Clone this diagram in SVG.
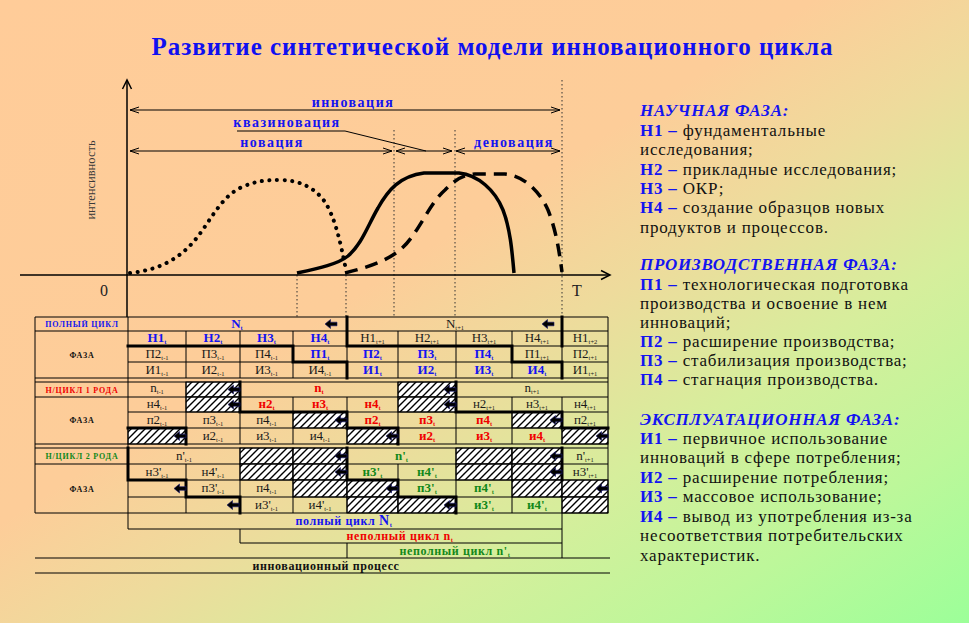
<svg xmlns="http://www.w3.org/2000/svg" width="969" height="623" viewBox="0 0 969 623">
<defs>
<linearGradient id="bg" x1="0" y1="0" x2="1" y2="1">
<stop offset="0" stop-color="#FFCC99"/>
<stop offset="0.42" stop-color="#FDCD99"/>
<stop offset="0.55" stop-color="#EEDB9C"/>
<stop offset="0.7" stop-color="#D6EE9C"/>
<stop offset="0.85" stop-color="#BDF79A"/>
<stop offset="1" stop-color="#9CFF99"/>
</linearGradient>
<pattern id="hatch" patternUnits="userSpaceOnUse" width="7" height="7">
<rect width="7" height="7" fill="#fff"/>
<path d="M-1,8 L8,-1 M-1,1 L1,-1 M6,8 L8,6" stroke="#000" stroke-width="1.4"/>
</pattern>
<marker id="ah" markerWidth="10" markerHeight="8" refX="9" refY="4" orient="auto-start-reverse" markerUnits="userSpaceOnUse">
<path d="M0,1 L9,4 L0,7" fill="none" stroke="#000" stroke-width="1"/>
</marker>
<marker id="ax" markerWidth="12" markerHeight="12" refX="10" refY="6" orient="auto" markerUnits="userSpaceOnUse">
<path d="M1,1.5 L10,6 L1,10.5" fill="none" stroke="#000" stroke-width="1.5"/>
</marker>
<path id="la" d="M0,0 L5.5,-4.5 L5.5,-1.8 L12,-1.8 L12,1.8 L5.5,1.8 L5.5,4.5 Z" fill="#000" stroke="#1a1a70" stroke-width="0.6"/>
<style>
text{font-family:"Liberation Serif","Times New Roman",serif}
.c{font-size:13px;text-anchor:middle}
.s{font-size:6.5px}
.bl{fill:#1414F0;font-weight:bold}
.bk{fill:#1a1a1a}
.rd{fill:#F00000;font-weight:bold}
.gr{fill:#12881A;font-weight:bold}
.ln{stroke:#000;stroke-width:1;fill:none}
.th{stroke:#000;stroke-width:3;fill:none;stroke-linecap:square}
.h{fill:url(#hatch);stroke:#000;stroke-width:1}
.dim{stroke:#000;stroke-width:1;fill:none}
.dv{stroke:#333;stroke-width:1;stroke-dasharray:1.5 2.5}
.lab{font-size:14px;font-weight:bold;fill:#1414F0;letter-spacing:1.5px;text-anchor:middle}
.rl{font-size:8px;font-weight:bold;text-anchor:middle;letter-spacing:0.8px}
.br{font-size:12px;font-weight:bold;text-anchor:middle;letter-spacing:0.6px}
.lg{font-size:17px;fill:#111;letter-spacing:0.8px}
.hd{font-style:italic;font-weight:bold;fill:#1414F0}
.k{font-weight:bold;fill:#1414F0}
</style>
</defs>
<rect width="969" height="623" fill="url(#bg)"/>

<g id="title">
<text x="492" y="55" font-size="25" font-weight="bold" fill="#1010F0" text-anchor="middle" textLength="681" lengthAdjust="spacing">Развитие синтетической модели инновационного цикла</text>
</g>

<g id="chart">
<path class="dv" d="M297,275 V317 M346,275 V317 M394,130 V317 M455,130 V317 M562,80 V317"/>
<path d="M20,275 H610" stroke="#000" stroke-width="1.5" marker-end="url(#ax)"/>
<path d="M127,317 V80" stroke="#000" stroke-width="1.5" marker-end="url(#ax)"/>
<text x="104" y="296" font-family="Liberation Sans,Arial,sans-serif" font-size="16" text-anchor="middle" fill="#222">0</text>
<text x="577" y="296" font-family="Liberation Sans,Arial,sans-serif" font-size="16" text-anchor="middle" fill="#222">T</text>
<text transform="translate(95,180) rotate(-90)" font-family="Liberation Sans,Arial,sans-serif" font-size="12.5" text-anchor="middle" fill="#3a3a3a">интенсивность</text>
<path class="dim" d="M130,110 H560" marker-start="url(#ah)" marker-end="url(#ah)"/>
<path class="dim" d="M130,151 H392" marker-start="url(#ah)" marker-end="url(#ah)"/>
<path class="dim" d="M396,151 H452" marker-start="url(#ah)" marker-end="url(#ah)"/>
<path class="dim" d="M456,151 H560" marker-start="url(#ah)" marker-end="url(#ah)"/>
<path class="dim" d="M237,131 H345 L426,151"/>
<text class="lab" x="353" y="107">инновация</text>
<text class="lab" x="287" y="127">квазиновация</text>
<text class="lab" x="272" y="147">новация</text>
<text class="lab" x="514" y="147">деновация</text>
<path d="M130,273 C160,270 180,258 195,240 C210,222 220,198 240,188 C255,181 265,180 280,180 C300,180 315,188 325,202 C335,218 340,240 346,270" fill="none" stroke="#000" stroke-width="4" stroke-linecap="round" stroke-dasharray="0.1 7.5"/>
<path d="M297,273 C320,268 338,264 348,256 C362,244 368,225 378,208 C388,190 400,176 424,173 L459,173 C478,175 495,190 503,210 C510,228 512,250 514,273" fill="none" stroke="#000" stroke-width="3.5"/>
<path d="M345,273 C365,268 385,262 400,250 C418,235 428,205 445,190 C455,180 462,175 475,174 L505,174 C525,176 540,192 548,210 C556,230 559,250 562,272" fill="none" stroke="#000" stroke-width="3.5" stroke-dasharray="13 8"/>
</g>

<g id="hatched">
<rect class="h" x="186" y="382" width="54" height="15"/>
<rect class="h" x="398" y="382" width="58" height="15"/>
<rect class="h" x="186" y="397" width="54" height="15"/>
<rect class="h" x="398" y="397" width="58" height="15"/>
<rect class="h" x="293" y="412" width="54" height="16"/>
<rect class="h" x="512" y="412" width="50" height="16"/>
<rect class="h" x="128" y="428" width="58" height="16"/>
<rect class="h" x="347" y="428" width="51" height="16"/>
<rect class="h" x="562" y="428" width="46" height="16"/>
<rect class="h" x="240" y="448" width="53" height="16"/>
<rect class="h" x="293" y="448" width="54" height="16"/>
<rect class="h" x="456" y="448" width="56" height="16"/>
<rect class="h" x="512" y="448" width="50" height="16"/>
<rect class="h" x="240" y="464" width="53" height="16"/>
<rect class="h" x="293" y="464" width="54" height="16"/>
<rect class="h" x="456" y="464" width="56" height="16"/>
<rect class="h" x="512" y="464" width="50" height="16"/>
<rect class="h" x="293" y="480" width="54" height="17"/>
<rect class="h" x="347" y="480" width="51" height="17"/>
<rect class="h" x="512" y="480" width="50" height="17"/>
<rect class="h" x="562" y="480" width="46" height="17"/>
<rect class="h" x="347" y="497" width="51" height="16"/>
<rect class="h" x="398" y="497" width="58" height="16"/>
<rect class="h" x="562" y="497" width="46" height="16"/>
</g>

<g id="grid">
<path class="ln" stroke-width="2" d="M35,317 H608 M35,378 H608 M35,444 H608"/>
<path class="ln" d="M35,331 H608 M128,346 H608 M128,362 H608"/>
<path class="ln" stroke-width="1.5" d="M35,382 H608"/>
<path class="ln" d="M35,397 H608 M128,412 H608 M128,428 H608"/>
<path class="ln" stroke-width="1.5" d="M35,448 H608"/>
<path class="ln" d="M35,464 H608 M128,480 H608 M128,497 H608 M35,513 H608"/>
<path class="ln" d="M35,317 V513 M608,317 V513"/>
<path class="ln" stroke-width="1.5" d="M128,317 V529"/>
<path class="ln" d="M186,331 V378 M240,331 V378 M293,331 V378 M347,331 V378 M398,331 V378 M456,331 V378 M512,331 V378 M562,331 V378"/>
<path class="ln" d="M186,382 V397 M240,382 V397 M398,382 V397 M456,382 V397"/>
<path class="ln" d="M186,397 V444 M240,397 V444 M293,397 V444 M347,397 V444 M398,397 V444 M456,397 V444 M512,397 V444 M562,397 V444"/>
<path class="ln" d="M240,448 V464 M293,448 V464 M347,448 V464 M456,448 V464 M512,448 V464 M562,448 V464"/>
<path class="ln" d="M186,464 V513 M240,464 V513 M293,464 V513 M347,464 V513 M398,464 V513 M456,464 V513 M512,464 V513 M562,464 V513"/>
<path class="th" d="M128,346 H293 V362 H347 V378"/>
<path class="th" d="M347,317 V346 H512 V362 H562 V378"/>
<path class="th" d="M562,317 V346"/>
<path class="th" d="M128,428 H186 V444"/>
<path class="th" d="M240,382 V412 H347 V428 H398 V444"/>
<path class="th" d="M456,382 V412 H562 V428 H608"/>
<path class="th" d="M128,448 V480 H186 V497 H240 V513"/>
<path class="th" d="M347,448 V480 H398 V497 H456 V513"/>
<path class="th" d="M562,448 V480"/>
</g>

<g id="arrows">
<use href="#la" x="325" y="324"/>
<use href="#la" x="542" y="324"/>
<use href="#la" x="228" y="389.5"/>
<use href="#la" x="444" y="389.5"/>
<use href="#la" x="228" y="404.5"/>
<use href="#la" x="444" y="404.5"/>
<use href="#la" x="335" y="420"/>
<use href="#la" x="550" y="420"/>
<use href="#la" x="174" y="436"/>
<use href="#la" x="386" y="436"/>
<use href="#la" x="596" y="436"/>
<use href="#la" x="335" y="456"/>
<use href="#la" x="550" y="456"/>
<use href="#la" x="335" y="472"/>
<use href="#la" x="550" y="472"/>
<use href="#la" x="174" y="488.5"/>
<use href="#la" x="386" y="488.5"/>
<use href="#la" x="596" y="488.5"/>
<use href="#la" x="227" y="505"/>
<use href="#la" x="444" y="505"/>
</g>

<g id="row-labels">
<text class="rl" x="82" y="327" fill="#1414F0" letter-spacing="1.2">ПОЛНЫЙ ЦИКЛ</text>
<text class="rl" x="82" y="358" fill="#111" font-size="9">ФАЗА</text>
<text class="rl" x="82" y="392.5" fill="#F00000">Н/ЦИКЛ 1 РОДА</text>
<text class="rl" x="82" y="423" fill="#111" font-size="9">ФАЗА</text>
<text class="rl" x="82" y="459" fill="#12881A">Н/ЦИКЛ 2 РОДА</text>
<text class="rl" x="82" y="491.5" fill="#111" font-size="9">ФАЗА</text>
</g>

<g id="phase-cycle">
<text class="c bl" x="237" y="328" font-size="15">N<tspan class="s" dy="2">t</tspan></text>
<text class="c bk" x="455" y="328" font-size="15">N<tspan class="s" dy="2">t+1</tspan></text>
<text class="c bl" x="157" y="342">Н1<tspan class="s" dy="2">t</tspan></text>
<text class="c bl" x="213" y="342">Н2<tspan class="s" dy="2">t</tspan></text>
<text class="c bl" x="266.5" y="342">Н3<tspan class="s" dy="2">t</tspan></text>
<text class="c bl" x="320" y="342">Н4<tspan class="s" dy="2">t</tspan></text>
<text class="c bk" x="372.5" y="342">Н1<tspan class="s" dy="2">t+1</tspan></text>
<text class="c bk" x="427" y="342">Н2<tspan class="s" dy="2">t+1</tspan></text>
<text class="c bk" x="484" y="342">Н3<tspan class="s" dy="2">t+1</tspan></text>
<text class="c bk" x="537" y="342">Н4<tspan class="s" dy="2">t+1</tspan></text>
<text class="c bk" x="585" y="342">Н1<tspan class="s" dy="2">t+2</tspan></text>
<text class="c bk" x="157" y="357.5">П2<tspan class="s" dy="2">t-1</tspan></text>
<text class="c bk" x="213" y="357.5">П3<tspan class="s" dy="2">t-1</tspan></text>
<text class="c bk" x="266.5" y="357.5">П4<tspan class="s" dy="2">t-1</tspan></text>
<text class="c bl" x="320" y="357.5">П1<tspan class="s" dy="2">t</tspan></text>
<text class="c bl" x="372.5" y="357.5">П2<tspan class="s" dy="2">t</tspan></text>
<text class="c bl" x="427" y="357.5">П3<tspan class="s" dy="2">t</tspan></text>
<text class="c bl" x="484" y="357.5">П4<tspan class="s" dy="2">t</tspan></text>
<text class="c bk" x="537" y="357.5">П1<tspan class="s" dy="2">t+1</tspan></text>
<text class="c bk" x="585" y="357.5">П2<tspan class="s" dy="2">t+1</tspan></text>
<text class="c bk" x="157" y="373.5">И1<tspan class="s" dy="2">t-1</tspan></text>
<text class="c bk" x="213" y="373.5">И2<tspan class="s" dy="2">t-1</tspan></text>
<text class="c bk" x="266.5" y="373.5">И3<tspan class="s" dy="2">t-1</tspan></text>
<text class="c bk" x="320" y="373.5">И4<tspan class="s" dy="2">t-1</tspan></text>
<text class="c bl" x="372.5" y="373.5">И1<tspan class="s" dy="2">t</tspan></text>
<text class="c bl" x="427" y="373.5">И2<tspan class="s" dy="2">t</tspan></text>
<text class="c bl" x="484" y="373.5">И3<tspan class="s" dy="2">t</tspan></text>
<text class="c bl" x="537" y="373.5">И4<tspan class="s" dy="2">t</tspan></text>
<text class="c bk" x="585" y="373.5">И1<tspan class="s" dy="2">t+1</tspan></text>
</g>

<g id="cycle-1">
<text class="c bk" x="157" y="392">n<tspan class="s" dy="2">t-1</tspan></text>
<text class="c rd" x="319" y="392">n<tspan class="s" dy="2">t</tspan></text>
<text class="c bk" x="532" y="392">n<tspan class="s" dy="2">t+1</tspan></text>
<text class="c bk" x="157" y="408">н4<tspan class="s" dy="2">t-1</tspan></text>
<text class="c rd" x="266.5" y="408">н2<tspan class="s" dy="2">t</tspan></text>
<text class="c rd" x="320" y="408">н3<tspan class="s" dy="2">t</tspan></text>
<text class="c rd" x="372.5" y="408">н4<tspan class="s" dy="2">t</tspan></text>
<text class="c bk" x="484" y="408">н2<tspan class="s" dy="2">t+1</tspan></text>
<text class="c bk" x="537" y="408">н3<tspan class="s" dy="2">t+1</tspan></text>
<text class="c bk" x="585" y="408">н4<tspan class="s" dy="2">t+1</tspan></text>
<text class="c bk" x="157" y="423.5">п2<tspan class="s" dy="2">t-1</tspan></text>
<text class="c bk" x="213" y="423.5">п3<tspan class="s" dy="2">t-1</tspan></text>
<text class="c bk" x="266.5" y="423.5">п4<tspan class="s" dy="2">t-1</tspan></text>
<text class="c rd" x="372.5" y="423.5">п2<tspan class="s" dy="2">t</tspan></text>
<text class="c rd" x="427" y="423.5">п3<tspan class="s" dy="2">t</tspan></text>
<text class="c rd" x="484" y="423.5">п4<tspan class="s" dy="2">t</tspan></text>
<text class="c bk" x="585" y="423.5">п2<tspan class="s" dy="2">t+1</tspan></text>
<text class="c bk" x="213" y="439.5">и2<tspan class="s" dy="2">t-1</tspan></text>
<text class="c bk" x="266.5" y="439.5">и3<tspan class="s" dy="2">t-1</tspan></text>
<text class="c bk" x="320" y="439.5">и4<tspan class="s" dy="2">t-1</tspan></text>
<text class="c rd" x="427" y="439.5">и2<tspan class="s" dy="2">t</tspan></text>
<text class="c rd" x="484" y="439.5">и3<tspan class="s" dy="2">t</tspan></text>
<text class="c rd" x="537" y="439.5">и4<tspan class="s" dy="2">t</tspan></text>
</g>

<g id="cycle-2">
<text class="c bk" x="184" y="459.5">n'<tspan class="s" dy="2">t-1</tspan></text>
<text class="c gr" x="401.5" y="459.5">n'<tspan class="s" dy="2">t</tspan></text>
<text class="c bk" x="585" y="459.5">n'<tspan class="s" dy="2">t+1</tspan></text>
<text class="c bk" x="157" y="475.5">н3'<tspan class="s" dy="2">t-1</tspan></text>
<text class="c bk" x="213" y="475.5">н4'<tspan class="s" dy="2">t-1</tspan></text>
<text class="c gr" x="372.5" y="475.5">н3'<tspan class="s" dy="2">t</tspan></text>
<text class="c gr" x="427" y="475.5">н4'<tspan class="s" dy="2">t</tspan></text>
<text class="c bk" x="585" y="475.5">н3'<tspan class="s" dy="2">t+1</tspan></text>
<text class="c bk" x="213" y="492">п3'<tspan class="s" dy="2">t-1</tspan></text>
<text class="c bk" x="266.5" y="492">п4<tspan class="s" dy="2">t-1</tspan></text>
<text class="c gr" x="427" y="492">п3'<tspan class="s" dy="2">t</tspan></text>
<text class="c gr" x="484" y="492">п4'<tspan class="s" dy="2">t</tspan></text>
<text class="c bk" x="266.5" y="508.5">и3'<tspan class="s" dy="2">t-1</tspan></text>
<text class="c bk" x="320" y="508.5">и4'<tspan class="s" dy="2">t-1</tspan></text>
<text class="c gr" x="484" y="508.5">и3'<tspan class="s" dy="2">t</tspan></text>
<text class="c gr" x="537" y="508.5">и4'<tspan class="s" dy="2">t</tspan></text>
</g>

<g id="brackets">
<path class="ln" d="M128,529 H562 M562,513 V558"/>
<path class="ln" d="M240,543 H562"/>
<path class="ln" stroke-width="2" d="M240,529 V543"/>
<path class="ln" d="M347,543 V558"/>
<path class="ln" stroke-width="1.5" d="M35,558 H610 M35,573 H610"/>
<text class="br" x="344" y="525" fill="#1414F0">полный цикл <tspan font-size="14">N</tspan><tspan class="s" dy="2">t</tspan></text>
<text class="br" x="400" y="540" fill="#F00000">неполный цикл n<tspan class="s" dy="2">t</tspan></text>
<text class="br" x="455" y="555" fill="#12881A">неполный цикл n'<tspan class="s" dy="2">t</tspan></text>
<text class="br" x="326" y="570" fill="#111">инновационный процесс</text>
</g>

<g id="legend">
<text class="lg hd" x="640" y="116">НАУЧНАЯ ФАЗА:</text>
<text class="lg" x="640" y="135.5"><tspan class="k">Н1 –</tspan> фундаментальные</text>
<text class="lg" x="640" y="155">исследования;</text>
<text class="lg" x="640" y="174.5"><tspan class="k">Н2 –</tspan> прикладные исследования;</text>
<text class="lg" x="640" y="193.5"><tspan class="k">Н3 –</tspan> ОКР;</text>
<text class="lg" x="640" y="213"><tspan class="k">Н4 –</tspan> создание образцов новых</text>
<text class="lg" x="640" y="232.5">продуктов и процессов.</text>
<text class="lg hd" x="640" y="270">ПРОИЗВОДСТВЕННАЯ ФАЗА:</text>
<text class="lg" x="640" y="289.5"><tspan class="k">П1 –</tspan> технологическая подготовка</text>
<text class="lg" x="640" y="308.5">производства и освоение в нем</text>
<text class="lg" x="640" y="327.5">инноваций;</text>
<text class="lg" x="640" y="346.5"><tspan class="k">П2 –</tspan> расширение производства;</text>
<text class="lg" x="640" y="365.5"><tspan class="k">П3 –</tspan> стабилизация производства;</text>
<text class="lg" x="640" y="384.5"><tspan class="k">П4 –</tspan> стагнация производства.</text>
<text class="lg hd" x="640" y="424.5">ЭКСПЛУАТАЦИОННАЯ ФАЗА:</text>
<text class="lg" x="640" y="443.5"><tspan class="k">И1 –</tspan> первичное использование</text>
<text class="lg" x="640" y="463">инноваций в сфере потребления;</text>
<text class="lg" x="640" y="482.5"><tspan class="k">И2 –</tspan> расширение потребления;</text>
<text class="lg" x="640" y="502"><tspan class="k">И3 –</tspan> массовое использование;</text>
<text class="lg" x="640" y="521.5"><tspan class="k">И4 –</tspan> вывод из употребления из-за</text>
<text class="lg" x="640" y="541">несоответствия потребительских</text>
<text class="lg" x="640" y="560.5">характеристик.</text>
</g>
</svg>
